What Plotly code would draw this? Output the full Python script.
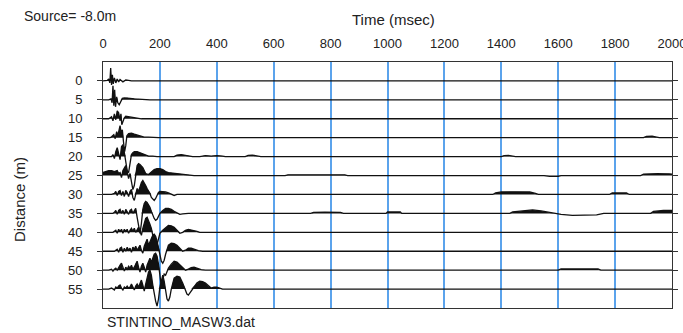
import plotly.graph_objects as go

# ---------------- data ----------------
DISTANCES = [0, 5, 10, 15, 20, 25, 30, 35, 40, 45, 50, 55]
TIME_TICKS = [0, 200, 400, 600, 800, 1000, 1200, 1400, 1600, 1800, 2000]

# each trace: sample times (ms) and amplitudes (relative units, + = up / filled)
t00 = [0, 10, 15, 20, 24, 27, 30, 33, 36, 40, 45, 50, 55, 60, 70, 80, 90, 100, 2000]
a00 = [0, 0, 0.5, 2, -2, 13, -4, 6, -3, 3, -2, 2, -1, 1.5, -1, 1, 0.5, 0, 0]

t05 = [0, 20, 28, 32, 35, 38, 41, 44, 48, 52, 57, 62, 68, 75, 85, 95, 110, 130, 150, 165, 2000]
a05 = [0, 0, 1, -3, 14, -6, 10, -7, 3, -3, -5, -2, 1.5, 2, 2, 1.5, 1, 0.5, 0.5, 0, 0]

t10 = [0, 20, 30, 35, 40, 45, 50, 55, 60, 63, 66, 70, 75, 80, 90, 100, 110, 120, 135, 2000]
a10 = [0, 0, 2, -2, 5, -1, 8, 6, -2, 5, -6, -3, 1, 2.5, 2, 1, 1, 0.5, 0, 0]

t15 = [0, 25, 30, 38, 43, 48, 52, 56, 60, 64, 68, 72, 76, 80, 84, 90, 100, 110, 120, 130,
       145, 160, 175, 195, 1900, 1910, 1930, 1945, 1955, 2000]
a15 = [0, 0, 1, 3, -1, 6, 2, 9, 12, 4, 8, -4, -14, -8, 2, 4, 4.5, 3.5, 2.5, 1.5,
       0.5, 0.5, 0.3, 0, 0, 1.2, 1.5, 1, 0, 0]

t20 = [0, 30, 35, 40, 45, 50, 55, 60, 65, 70, 75, 80, 85, 90, 95, 100, 105, 110, 120, 130,
       140, 150, 160, 175, 190, 250, 260, 275, 290, 305, 315, 340, 360, 380, 400, 420, 430,
       500, 510, 525, 545, 555, 1400, 1410, 1425, 1440, 1450, 2000]
a20 = [0, 0, 2, -2, 5, 9, 3, -3, 10, 12, 4, -6, -14, -16, -6, 2, 4, 5, 5, 4,
       3, 1.5, 0.5, 0.5, 0, 0, 1.5, 2, 1.5, 0.5, 0, 0, 1, 0.5, 1, 0.5, 0,
       0, 1.2, 1.5, 1, 0, 0, 1, 1.2, 0.8, 0, 0]

t25 = [0, 10, 20, 30, 40, 50, 55, 60, 65, 70, 75, 80, 85, 90, 95, 100, 105, 110, 115, 120,
       125, 130, 140, 150, 160, 170, 180, 190, 200, 210, 220, 230, 245, 260, 280, 300, 320,
       640, 650, 850, 860, 1550, 1570, 1600, 1610, 1890, 1900, 1950, 1990, 2000]
a25 = [3, 4, 5, 5, 4, 5, 2, 3, -2, 5, 8, 10, 4, -3, 2, -8, -14, -10, 3, 10,
       12, 11, 8, 2, 1, 4, 6, 7, 7, 6, 4, 3, 2.5, 2, 1.5, 0.5, 0,
       0, 0.7, 0.7, 0, 0, -0.7, -0.7, 0, 0, 1.5, 2, 2, 1.5]

t30 = [0, 30, 40, 45, 50, 55, 60, 65, 70, 75, 80, 85, 90, 95, 100, 105, 110, 115, 120, 125,
       130, 135, 140, 145, 150, 155, 160, 165, 170, 175, 180, 185, 190, 195, 200, 210, 220,
       230, 240, 250, 260, 280, 290, 1370, 1380, 1400, 1450, 1500, 1520, 1530, 1780, 1790,
       1840, 1850, 2000]
a30 = [0, 0, 1, 3, -1, 3, 4, -1, 3, -2, 4, 2, -2, 3, 5, -3, -6, 2, 6, 3,
       8, 12, 14, 12, 9, 6, 4, 1, -3, -5, -6, -4, 0, 2, 3, 3, 2.5,
       1.5, 0, -1, 0, 0.5, 0, 0, 1.5, 2.5, 2.8, 2.5, 1, 0, 0, 1.5,
       1.5, 0, 0]

t35 = [0, 35, 40, 45, 50, 55, 60, 65, 70, 75, 80, 85, 90, 95, 100, 105, 110, 115, 120, 125,
       130, 135, 140, 145, 150, 155, 160, 165, 170, 175, 180, 185, 190, 195, 200, 210, 220,
       230, 240, 250, 260, 270, 280, 300, 730, 740, 780, 835, 845, 995, 1000, 1045, 1050,
       1430, 1440, 1480, 1510, 1540, 1570, 1590, 1610, 1650, 1700, 1735, 1760, 1925, 1935,
       1970, 2000]
a35 = [0, 0, 1, 3, -1, 3, 4, 0, 3, -1, 4, 2, -1, 3, 4, 0, 3, 5, -4, -14,
       -20, -10, 4, 10, 12, 11, 9, 6, 2, -2, -5, -7, -6, -3, 0, 3, 5,
       5, 4, 2, 0.5, -1, -0.5, 0, 0, 1, 1.2, 1, 0, 0, 1.5, 1.5, 0,
       0, 1.5, 2.5, 3.5, 2.5, 1, 0, -1, -2, -2, -1.5, 0, 0, 2,
       3, 3]

t40 = [0, 35, 45, 50, 55, 60, 65, 70, 75, 80, 85, 90, 95, 100, 105, 110, 115, 120, 125, 130,
       135, 140, 145, 150, 155, 160, 165, 170, 175, 180, 185, 190, 195, 200, 210, 220, 230,
       240, 250, 260, 270, 280, 290, 300, 310, 320, 330, 340, 2000]
a40 = [0, 0, 2, -1, 3, 1, 3, -1, 3, 1, 3, -1, 2, 4, 1, 4, 0, 3, 5, 1,
       -3, 4, 10, 14, 15, 12, 8, 4, -2, -10, -18, -12, -4, -1, 2, 5, 7,
       6.5, 5, 2, -1, 0, 2, 3, 2.5, 2, 1, 0, 0]

t45 = [0, 40, 50, 55, 60, 65, 70, 75, 80, 85, 90, 95, 100, 105, 110, 115, 120, 125, 130, 135,
       140, 145, 150, 155, 160, 165, 170, 175, 180, 185, 190, 195, 200, 205, 210, 215, 220,
       225, 230, 240, 250, 260, 270, 280, 290, 300, 310, 320, 335, 350, 2000]
a45 = [0, 0, 2, -1, 3, 4, -1, 3, 0, 4, 1, 3, -1, 4, 2, 5, 1, 3, 6, 1,
       -2, 5, 8, 12, 6, 10, 14, 16, 17, 15, 10, 4, -4, -10, -12, -9, -3,
       2, 6, 8, 7.5, 6, 3, 0, 1, 3, 3, 2, 0.5, 0, 0]

t50 = [0, 20, 30, 35, 40, 45, 50, 55, 60, 65, 70, 75, 80, 85, 90, 95, 100, 105, 110, 115,
       120, 125, 130, 135, 140, 145, 150, 155, 160, 165, 170, 175, 180, 185, 190, 195, 200,
       205, 210, 215, 220, 225, 230, 240, 250, 260, 270, 280, 290, 300, 310, 320, 330, 345,
       360, 1600, 1610, 1740, 1750, 2000]
a50 = [0, 0, 1, -1, 1, 2, 0, 3, 5, 7, 2, -1, 3, 1, 4, 2, 5, 1, 3, 7,
       9, 3, -2, 4, 7, 3, -2, 5, 9, 12, 8, 12, 16, 17, 14, 6, -8,
       -16, -10, -4, -5, -2, 2, 6, 9, 8, 5, 2, 0, 1, 2.5, 3, 2, 0.5,
       0, 0, 1.2, 1.2, 0, 0]

t55 = [0, 20, 30, 40, 45, 50, 55, 60, 65, 70, 75, 80, 85, 90, 95, 100, 105, 110, 115, 120,
       125, 130, 135, 140, 145, 150, 155, 160, 165, 170, 175, 180, 185, 190, 195, 200, 205,
       210, 215, 220, 225, 230, 235, 240, 245, 250, 260, 270, 280, 290, 295, 300, 305, 310,
       320, 330, 340, 350, 360, 370, 380, 390, 400, 410, 420, 2000]
a55 = [0, 0, 1, -1, 2, 1, 3, 4, 1, -1, 2, 1, 3, 1, 2, 5, 2, -1, 3, 5,
       2, 6, 9, 4, -2, 5, 12, 17, 19, 14, 4, -6, -12, -17, -10, 2, 10,
       14, 8, -2, -10, -12, -8, 0, 6, 11, 13, 12, 6, -2, -5, -6, -4, -1,
       3, 6, 8, 7.5, 6, 3, 1, 2, 2, 1, 0, 0]

TRACE_TIMES = [t00, t05, t10, t15, t20, t25, t30, t35, t40, t45, t50, t55]
TRACE_AMPS = [a00, a05, a10, a15, a20, a25, a30, a35, a40, a45, a50, a55]

# ---------------- styling ----------------
AMP_SCALE = 5 / 18.95   # distance units per amplitude unit
FONT = "Liberation Sans, Arial, sans-serif"
GRID_BLUE = "#5ba3ec"
INK = "#111111"

fig = go.Figure()

for d, ts, amps in zip(DISTANCES, TRACE_TIMES, TRACE_AMPS):
    y_line = [d - a * AMP_SCALE for a in amps]
    y_pos = [d - max(a, 0) * AMP_SCALE for a in amps]
    fig.add_trace(go.Scatter(
        x=list(ts) + list(ts)[::-1],
        y=y_pos + [d] * len(ts),
        fill="toself", fillcolor=INK, mode="lines",
        line=dict(width=0, color=INK), hoverinfo="skip", showlegend=False))
    fig.add_trace(go.Scatter(
        x=ts, y=y_line, mode="lines",
        line=dict(width=1.3, color=INK), hoverinfo="skip", showlegend=False))

fig.update_layout(
    width=683, height=333,
    margin=dict(l=103, r=11, t=62, b=25, autoexpand=False),
    paper_bgcolor="white", plot_bgcolor="white",
    font=dict(family=FONT, size=13, color="#222"),
    showlegend=False,
    xaxis=dict(
        range=[0, 2000], side="top", tickvals=TIME_TICKS,
        ticktext=[str(v) for v in TIME_TICKS],
        showgrid=True, gridcolor=GRID_BLUE, gridwidth=2,
        showline=True, linecolor="#333", linewidth=1, mirror=True,
        ticks="", zeroline=False, tickfont=dict(size=13, color="#222"),
        ticklabelstandoff=8, automargin=False, ticklabeloverflow="allow",
    ),
    yaxis=dict(
        range=[60, -5], tickvals=DISTANCES,
        ticktext=[str(v) for v in DISTANCES],
        showgrid=False, showline=True, linecolor="#333", linewidth=1,
        mirror="ticks", ticks="outside", ticklen=5, tickcolor="#333",
        zeroline=False, tickfont=dict(size=13, color="#222"),
        ticklabelstandoff=12, automargin=False,
    ),
    annotations=[
        dict(text="Source= -8.0m", xref="paper", yref="paper",
             x=(22 - 103) / 569, y=1 + (62 - 16) / 246,
             xanchor="left", yanchor="middle", showarrow=False,
             font=dict(size=14, color="#222")),
        dict(text="Time (msec)", xref="paper", yref="paper",
             x=(393 - 103) / 569, y=1 + (62 - 19) / 246,
             xanchor="center", yanchor="middle", showarrow=False,
             font=dict(size=15, color="#222")),
        dict(text="Distance (m)", xref="paper", yref="paper",
             x=(19 - 103) / 569, y=(308 - 200) / 246, textangle=-90,
             xanchor="center", yanchor="middle", showarrow=False,
             font=dict(size=15, color="#222")),
        dict(text="STINTINO_MASW3.dat", xref="paper", yref="paper",
             x=(105 - 103) / 569, y=(308 - 322) / 246,
             xanchor="left", yanchor="middle", showarrow=False,
             font=dict(size=14, color="#222")),
    ],
)

fig.write_html("out.html", config={"displayModeBar": False},
               post_script="document.body.style.margin='0';document.body.style.overflow='hidden';")
